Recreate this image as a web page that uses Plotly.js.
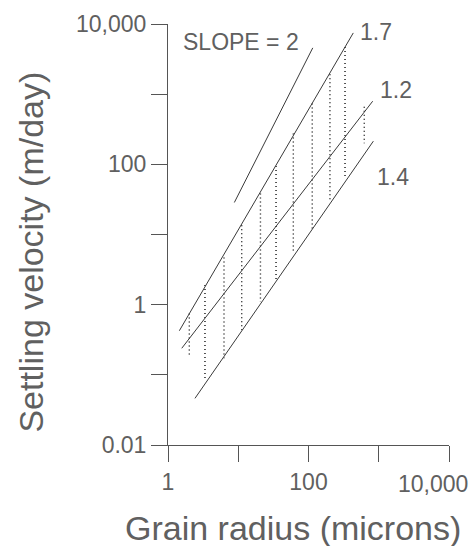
<!DOCTYPE html>
<html>
<head>
<meta charset="utf-8">
<script src="https://cdn.plot.ly/plotly-3.0.1.min.js"></script>
<style>html,body{margin:0;padding:0;background:#fff;}#chart{width:472px;height:546px;}</style>
</head>
<body>
<div id="chart"></div>
<script>
// Reference line (slope = 2)
const slope2X = [8.8, 115];
const slope2Y = [28.6, 4570];
// Line labelled 1.7
const line17X = [1.45, 434];
const line17Y = [0.425, 7460];
// Line labelled 1.2
const line12X = [1.57, 820];
const line12Y = [0.239, 794];
// Line labelled 1.4
const line14X = [2.42, 838];
const line14Y = [0.0462, 214];
// Dotted vertical ranges
const dotX      = [2.01, 3.36, 6.27, 11.2, 20.7, 34.5, 60.8, 113, 202, 331, 622];
const dotTop    = [0.75, 1.9, 4.72, 13.6, 38.5, 95, 275, 738, 1928, 4720, 659];
const dotBottom = [0.185, 0.084, 0.172, 0.435, 1.1, 2.24, 5.67, 12.2, 30.9, 66.4, 199];
// Tick labels
const xTickVals = [1, 10, 100, 1000, 10000];
const xTickText = ['1', '', '100', '', '10,000'];
const yTickVals = [0.01, 0.1, 1, 10, 100, 1000, 10000];
const yTickText = ['0.01', '', '1', '', '100', '', '10,000'];
// Texts
const xTitle = 'Grain radius (microns)';
const yTitle = 'Settling velocity (m/day)';
const lineLabels = ['SLOPE = 2', '1.7', '1.2', '1.4'];

const FONT = 'Liberation Sans, Arial, sans-serif';
const TXT = '#606060';
const LINE = '#3a3a3a';

const dx = [], dy = [];
dotX.forEach((x, i) => { dx.push(x, x, null); dy.push(dotTop[i], dotBottom[i], null); });

// the last x tick label is drawn as an annotation pulled inside the page (as in the original)
const lastX = xTickVals.length - 1;
const xTickShown = xTickText.map((t, i) => i === lastX ? '' : t);

const solid = {mode: 'lines', line: {color: LINE, width: 1}, hoverinfo: 'skip', showlegend: false};
const traces = [
  Object.assign({x: dx, y: dy, type: 'scatter', connectgaps: false}, solid, {line: {color: '#111', width: 1.4, dash: '1px,3px'}}),
  Object.assign({x: slope2X, y: slope2Y, type: 'scatter'}, solid),
  Object.assign({x: line17X, y: line17Y, type: 'scatter'}, solid),
  Object.assign({x: line12X, y: line12Y, type: 'scatter'}, solid),
  Object.assign({x: line14X, y: line14Y, type: 'scatter'}, solid)
];

const axisCommon = {
  type: 'log', showgrid: false, zeroline: false, showline: true,
  linecolor: '#555', linewidth: 1, ticks: 'outside', ticklen: 16, tickcolor: '#555', tickwidth: 1,
  tickmode: 'array', tickfont: {family: FONT, size: 23, color: TXT}, automargin: false
};

const lblFont = {family: FONT, size: 23, color: TXT};
const titleFont = {family: FONT, size: 34, color: TXT};

const layout = {
  width: 472, height: 546,
  margin: {l: 168, r: 23, t: 24, b: 101},
  paper_bgcolor: '#fff', plot_bgcolor: '#fff',
  showlegend: false,
  xaxis: Object.assign({}, axisCommon, {range: [0, 4], tickvals: xTickVals, ticktext: xTickShown}),
  yaxis: Object.assign({}, axisCommon, {range: [-2, 4], tickvals: yTickVals, ticktext: yTickText}),
  annotations: [
    {x: 1.036, y: 3.745, xref: 'x', yref: 'y', text: lineLabels[0], showarrow: false, font: lblFont},
    {x: 2.961, y: 3.890, xref: 'x', yref: 'y', text: lineLabels[1], showarrow: false, font: lblFont},
    {x: 3.246, y: 3.057, xref: 'x', yref: 'y', text: lineLabels[2], showarrow: false, font: lblFont},
    {x: 3.196, y: 1.825, xref: 'x', yref: 'y', text: lineLabels[3], showarrow: false, font: lblFont},
    {x: Math.log10(xTickVals[lastX]), y: -0.093, xref: 'x', yref: 'paper', text: xTickText[lastX], showarrow: false,
     font: lblFont, xanchor: 'right', yanchor: 'middle', xshift: 21},
    {x: 0.4466, y: -0.197, xref: 'paper', yref: 'paper', text: xTitle, showarrow: false, font: titleFont,
     xanchor: 'center', yanchor: 'middle'},
    {x: -0.4875, y: 0.457, xref: 'paper', yref: 'paper', text: yTitle, showarrow: false, font: titleFont,
     textangle: -90, xanchor: 'center', yanchor: 'middle'}
  ]
};

Plotly.newPlot('chart', traces, layout, {staticPlot: true, displayModeBar: false});
</script>
</body>
</html>
